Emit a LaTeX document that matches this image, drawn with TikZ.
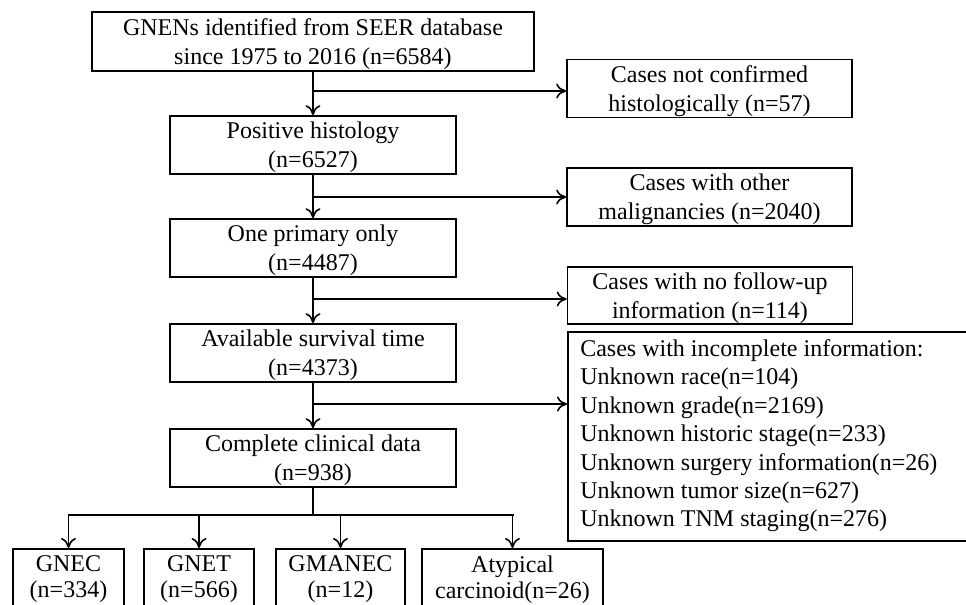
\documentclass[tikz,border=0pt]{standalone}
\usepackage{fontspec}
\setmainfont{Liberation Serif}
\usetikzlibrary{arrows.meta}

\begin{document}
\begin{tikzpicture}[x=0.5pt, y=-0.5pt, line width=0.8pt,
    >={To[length=5pt,width=7.5pt]},
    box/.style={draw, align=center, inner sep=0pt, text depth=0pt, font=\fontsize{12}{14.5}\selectfont},
    sidebox/.style={box, minimum width=142.5pt, minimum height=29pt},
    mainbox/.style={box, minimum width=143pt, minimum height=29pt},
    subbox/.style={box, anchor=north, inner ysep=3.5pt, text depth=6pt, font=\fontsize{12}{13}\selectfont}]
\def\W{966} \def\H{605}
\useasboundingbox (0,0) rectangle (\W,\H);
\clip (0,0) rectangle (\W,\H);

% main line of the flow
\node[box, minimum width=221pt, minimum height=29.5pt] (seer) at (313,41.5) {GNENs identified from SEER database\\since 1975 to 2016 (n=6584)};
\node[mainbox] (hist) at (313,145) {Positive histology\\(n=6527)};
\node[mainbox] (prim) at (313,248) {One primary only\\(n=4487)};
\node[mainbox] (surv) at (313,353) {Available survival time\\(n=4373)};
\node[mainbox] (clin) at (313,458) {Complete clinical data\\(n=938)};

% excluded cases
\node[sidebox] (nohist) at (709.5,88.5) {Cases not confirmed\\histologically (n=57)};
\node[sidebox] (other) at (709.5,197) {Cases with other\\malignancies (n=2040)};
\node[sidebox, minimum height=28.5pt] (nofollow) at (710,295.5) {Cases with no follow-up\\information (n=114)};
\node[draw, anchor=north west, minimum width=210pt, minimum height=104.5pt,
      align=left, inner sep=0pt, font=\fontsize{12}{14.2}\selectfont] (incompl) at (567,331)
  {\hspace*{2.5pt}\parbox[t]{200pt}{\vspace*{-0.5pt}Cases with incomplete information:\\Unknown race(n=104)\\Unknown grade(n=2169)\\Unknown historic stage(n=233)\\Unknown surgery information(n=26)\\Unknown tumor size(n=627)\\Unknown TNM staging(n=276)}};

% subtypes
\node[subbox, minimum width=55.5pt] (gnec) at (68.5,548) {GNEC\\(n=334)};
\node[subbox, minimum width=55pt] (gnet) at (199,548) {GNET\\(n=566)};
\node[subbox, minimum width=64.5pt] (gmanec) at (340.5,548) {GMANEC\\(n=12)};
\node[subbox, minimum width=90.5pt] (atyp) at (512.5,548) {Atypical\\carcinoid(n=26)};

\coordinate (b1) at (313,91);
\coordinate (b2) at (313,197);
\coordinate (b3) at (313,299);
\coordinate (b4) at (313,404);
\coordinate (split) at (313,515);

\draw[->] (seer) -- (hist);
\draw[->] (hist) -- (prim);
\draw[->] (prim) -- (surv);
\draw[->] (surv) -- (clin);
\draw[->] (b1) -- (b1 -| nohist.west);
\draw[->] (b2) -- (b2 -| other.west);
\draw[->] (b3) -- (b3 -| nofollow.west);
\draw[->] (b4) -- (b4 -| incompl.west);

\draw (clin) -- (split);
\draw ([xshift=-0.5pt]gnec.north |- split) -- ([xshift=0.5pt]atyp.north |- split);
\foreach \n in {gnec,gnet,gmanec,atyp}
  \draw[->] (\n.north |- split) -- (\n.north);
\end{tikzpicture}
\end{document}
